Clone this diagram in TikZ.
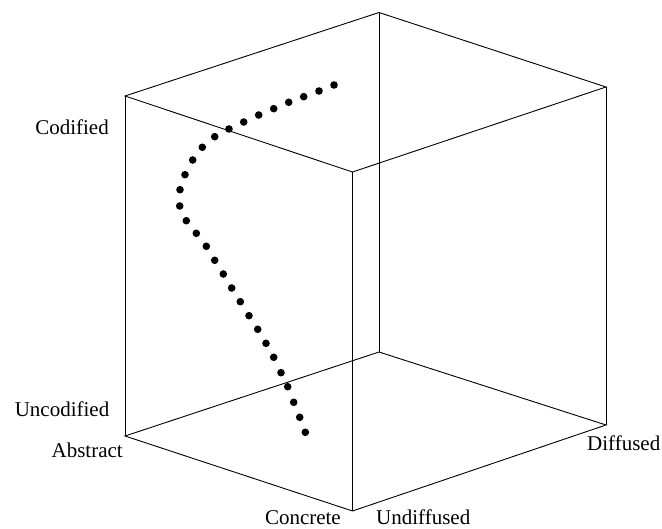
\documentclass[tikz,border=0pt]{standalone}
\usepackage{fontspec}
\setmainfont{Liberation Serif}
\begin{document}
\begin{tikzpicture}[x=1pt,y=-1pt,
  edge/.style={line width=0.9pt, black},
  dot/.style={circle, fill=black, inner sep=0pt, minimum size=7.6pt},
  lbl/.style={inner sep=0pt, text depth=0pt, font=\fontsize{21}{25}\selectfont}]
\useasboundingbox (0,0) rectangle (662,529);
% cube vertices
\coordinate (A) at (125,96);
\coordinate (B) at (379,12.5);
\coordinate (C) at (606,87);
\coordinate (D) at (352.5,172);
\coordinate (E) at (125,436);
\coordinate (F) at (352.5,511);
\coordinate (G) at (606,425);
\coordinate (H) at (379,352);
\draw[edge] (A) -- (B) -- (C) -- (D) -- cycle;
\draw[edge] (E) -- (F) -- (G) -- (H) -- cycle;
\draw[edge] (A) -- (E);
\draw[edge] (B) -- (H);
\draw[edge] (C) -- (G);
\draw[edge] (D) -- (F);
% dotted curve
\foreach \x/\y [count=\i] in {334/85, 319/91, 303.7/96.7, 288.7/102.3, 273.7/108.7, 258.7/115, 243.7/122, 229/129, 214.7/136.7, 202.3/147.3, 192.7/160, 185/174.7, 180/189.7, 179.7/206, 186.3/220.7, 196.3/233.3, 206.3/246.3, 214.7/260.3, 223.3/274, 231.7/288, 240.3/301.7, 249/315.7, 257.7/329.3, 266/343.3, 273.7/357.3, 281/372.7, 287.7/386.7, 293.7/402.3, 299.7/417.3, 305.3/432.3}
  \node[dot] (d\i) at (\x,\y) {};
% labels
\node[lbl, anchor=base east] (codified) at (109,135) {Codified};
\node[lbl, anchor=base east] (uncodified) at (109.5,417) {Uncodified};
\node[lbl, anchor=base east] (abstract) at (123,457) {Abstract};
\node[lbl, anchor=base east] (concrete) at (341,525) {Concrete};
\node[lbl, anchor=base west] (undiffused) at (376,525) {Undiffused};
\node[lbl, anchor=base west] (diffused) at (587,451) {Diffused};
\end{tikzpicture}
\end{document}
